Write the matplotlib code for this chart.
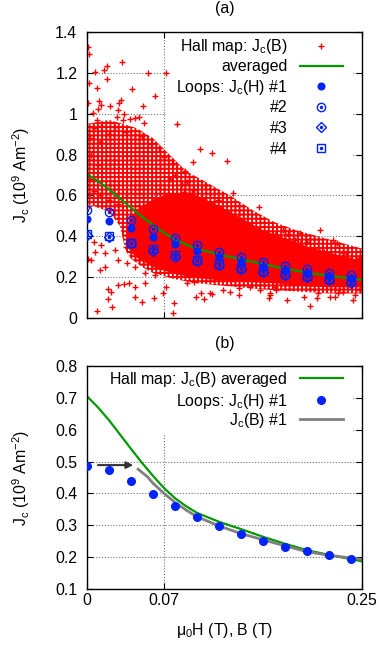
import matplotlib
matplotlib.use('Agg')
import matplotlib.pyplot as plt
from matplotlib.patches import Rectangle
from matplotlib.legend import Legend
from matplotlib.legend_handler import HandlerTuple

plt.rcParams['font.family'] = ['Liberation Sans', 'DejaVu Sans']
plt.rcParams['mathtext.fontset'] = 'custom'
plt.rcParams['mathtext.rm'] = 'Liberation Sans'
plt.rcParams['mathtext.it'] = 'Liberation Sans'
plt.rcParams['font.size'] = 11.4
plt.rcParams['hatch.linewidth'] = 1.4

# applied field of the magnetisation loops (T)
field = [0.00, 0.02, 0.04, 0.06, 0.08, 0.10, 0.12, 0.14, 0.16, 0.18, 0.20, 0.22, 0.24]
loop1 = [0.487, 0.473, 0.439, 0.398, 0.360, 0.327, 0.299, 0.274, 0.252, 0.233, 0.220, 0.207, 0.195]
loop2 = [0.528, 0.519, 0.478, 0.434, 0.392, 0.359, 0.323, 0.300, 0.274, 0.253, 0.238, 0.222, 0.209]
loop3 = [0.406, 0.398, 0.365, 0.330, 0.300, 0.279, 0.258, 0.240, 0.225, 0.212, 0.201, 0.186, 0.173]
loop4 = [0.411, 0.400, 0.369, 0.336, 0.308, 0.285, 0.264, 0.245, 0.230, 0.215, 0.204, 0.192, 0.180]

# Hall map, averaged Jc(B)
avg_b = [0.00, 0.01, 0.02, 0.03, 0.04, 0.05, 0.06, 0.07, 0.08, 0.09, 0.10, 0.12, 0.14,
         0.16, 0.18, 0.20, 0.22, 0.25]
avg_jc = [0.705, 0.670, 0.630, 0.585, 0.540, 0.496, 0.455, 0.417, 0.385, 0.360, 0.339,
          0.311, 0.288, 0.264, 0.242, 0.222, 0.207, 0.187]

# loop #1 converted to Jc(B)
jcb1_b = [0.0465, 0.055, 0.06, 0.07, 0.08, 0.09, 0.10, 0.12, 0.14, 0.17, 0.20, 0.22, 0.25]
jcb1_jc = [0.476, 0.452, 0.432, 0.400, 0.372, 0.348, 0.327, 0.298, 0.274, 0.245, 0.217,
           0.206, 0.193]

# Hall map cloud: solid core, looser halo around it, the rest as single points
core_b = [0.038, 0.045, 0.06, 0.075, 0.09, 0.10, 0.12, 0.14, 0.16, 0.18, 0.20, 0.22, 0.25,
          0.25, 0.22, 0.20, 0.17, 0.14, 0.12, 0.10, 0.08, 0.06, 0.05, 0.04, 0.036]
core_jc = [0.48, 0.53, 0.58, 0.61, 0.61, 0.60, 0.55, 0.49, 0.43, 0.39, 0.35, 0.32, 0.28,
           0.15, 0.15, 0.155, 0.17, 0.178, 0.185, 0.195, 0.215, 0.25, 0.28, 0.32, 0.36]
halo_b = [0.0, 0.0, 0.02, 0.045, 0.06, 0.075, 0.09, 0.11, 0.13, 0.15, 0.17, 0.19, 0.21, 0.23,
          0.25, 0.25, 0.22, 0.19, 0.16, 0.13, 0.10, 0.08, 0.06, 0.05, 0.04, 0.035, 0.03, 0.02]
halo_jc = [0.56, 0.95, 0.97, 0.93, 0.88, 0.80, 0.72, 0.66, 0.60, 0.53, 0.47, 0.43, 0.40, 0.37,
           0.34, 0.12, 0.12, 0.13, 0.14, 0.155, 0.17, 0.19, 0.22, 0.25, 0.29, 0.33, 0.45, 0.52]

hall_b = [0.001, 0.002, 0.018, 0.015, 0.032, 0.007, 0.055, 0.072, 0.018, 0.002, 0.041, 0.009,
          0.062, 0.031, 0.029, 0.011, 0.013, 0.021, 0.051, 0.001, 0.010, 0.028, 0.034, 0.005,
          0.047, 0.044, 0.039, 0.052, 0.082, 0.027, 0.025, 0.033, 0.009, 0.013, 0.006,
          0.103, 0.114, 0.127, 0.096, 0.089, 0.086, 0.091, 0.107, 0.088, 0.095, 0.094, 0.105,
          0.156, 0.117, 0.122, 0.131, 0.138, 0.089, 0.097, 0.119, 0.133,
          0.009, 0.019, 0.012, 0.019, 0.022, 0.023, 0.028, 0.034, 0.038, 0.044, 0.044, 0.050,
          0.061, 0.069, 0.072, 0.079, 0.078, 0.053, 0.004, 0.016, 0.007, 0.028, 0.036, 0.044,
          0.053, 0.062, 0.013, 0.025, 0.035, 0.006, 0.001, 0.047, 0.016,
          0.099, 0.106, 0.104, 0.112, 0.114, 0.124, 0.130, 0.138, 0.138, 0.148, 0.157, 0.165,
          0.166, 0.171, 0.091, 0.097, 0.154, 0.160, 0.171,
          0.183, 0.172, 0.189, 0.194, 0.200, 0.227, 0.212, 0.215, 0.235, 0.232, 0.227, 0.245,
          0.248, 0.239, 0.209, 0.203, 0.221, 0.225, 0.228, 0.233, 0.242, 0.244, 0.248, 0.197,
          0.210, 0.182, 0.166, 0.172, 0.178, 0.194, 0.212, 0.224, 0.233, 0.247,
          0.003, 0.012, 0.020, 0.035, 0.050, 0.058, 0.065, 0.070, 0.078, 0.004, 0.010, 0.003,
          0.006, 0.002, 0.012, 0.020, 0.028, 0.080, 0.075]
hall_jc = [1.328, 1.292, 1.235, 1.214, 1.255, 1.203, 1.201, 1.201, 1.171, 1.149, 1.121, 1.124,
           1.087, 1.067, 1.054, 1.062, 1.043, 1.039, 1.039, 1.054, 1.021, 1.018, 0.999, 1.002,
           0.982, 0.977, 0.972, 0.953, 0.948, 0.982, 0.936, 0.969, 0.970, 0.940, 0.930,
           0.827, 0.806, 0.768, 0.762, 0.720, 0.656, 0.664, 0.651, 0.618, 0.613, 0.582, 0.573,
           0.545, 0.529, 0.490, 0.491, 0.491, 0.708, 0.627, 0.578, 0.610,
           0.034, 0.093, 0.235, 0.142, 0.129, 0.055, 0.161, 0.166, 0.173, 0.153, 0.104, 0.080,
           0.096, 0.124, 0.153, 0.072, 0.026, 0.170, 0.284, 0.317, 0.325, 0.284, 0.268, 0.251,
           0.219, 0.210, 0.357, 0.333, 0.349, 0.373, 0.290, 0.300, 0.251,
           0.101, 0.091, 0.121, 0.124, 0.117, 0.137, 0.129, 0.148, 0.113, 0.153, 0.137, 0.096,
           0.113, 0.153, 0.170, 0.178, 0.411, 0.406, 0.406,
           0.410, 0.410, 0.382, 0.366, 0.374, 0.366, 0.325, 0.325, 0.317, 0.276, 0.268, 0.284,
           0.268, 0.284, 0.096, 0.059, 0.104, 0.104, 0.121, 0.129, 0.088, 0.113, 0.137, 0.104,
           0.121, 0.088, 0.121, 0.137, 0.431, 0.415, 0.431, 0.382, 0.317, 0.292,
           0.880, 0.860, 0.900, 0.910, 0.890, 0.850, 0.830, 0.790, 0.760, 0.800, 0.750, 0.680,
           0.620, 0.550, 0.600, 0.580, 0.560, 0.700, 0.680]

arrow_start = (0.010, 0.489)
arrow_end = (0.042, 0.489)

red = '#ff0000'
blue = '#0022ff'
green = '#009a00'
grey = '#808080'

fig = plt.figure(figsize=(3.79, 6.46), dpi=100)
ax1 = fig.add_axes([0.2296, 0.5077, 0.7256, 0.4427])
ax2 = fig.add_axes([0.2296, 0.0882, 0.7256, 0.3452])


def style_axis(ax):
    ax.set_axisbelow(True)
    ax.grid(True, color='0.45', linestyle=(0, (1, 1.6)), linewidth=0.8)
    ax.tick_params(direction='in', length=4, width=0.8, top=True, right=True, pad=7)
    ax.tick_params(axis='x', pad=3)
    for s in ax.spines.values():
        s.set_linewidth(1.0)
    ax.set_xlim(0, 0.25)
    ax.set_xticks([0, 0.07, 0.25])
    ax.set_ylabel(r'J$_\mathregular{c}$ (10$^\mathregular{9}$ Am$^\mathregular{-2}$)')
    ax.yaxis.set_label_coords(-0.2, 0.5)


def key_rows(ax, handles, labels, rows):
    # gnuplot-style key: one fixed-pitch row per entry, text right-aligned before the sample
    for h, lab, y in zip(handles, labels, rows):
        leg = Legend(ax, [h], [lab], loc='center right', bbox_to_anchor=(0.931, y),
                     frameon=False, markerfirst=False, handlelength=2.75,
                     handletextpad=0.75, borderpad=0, borderaxespad=0,
                     handler_map={tuple: HandlerTuple(ndivide=1, pad=0)})
        ax.add_artist(leg)


# ---- (a) ----
style_axis(ax1)
ax1.set_ylim(0, 1.4)
ax1.set_yticks([0, 0.2, 0.4, 0.6, 0.8, 1.0, 1.2, 1.4])
ax1.set_yticklabels(['0', '0.2', '0.4', '0.6', '0.8', '1', '1.2', '1.4'])
ax1.tick_params(axis='x', labelbottom=False)
ax1.add_patch(Rectangle((0.0715, 0.70), 0.17, 0.70, facecolor='white', edgecolor='none', zorder=0.9))

ax1.fill(halo_b, halo_jc, facecolor='none', edgecolor=red, hatch='++++', lw=0, zorder=1)
ax1.fill(core_b, core_jc, color=red, lw=0, zorder=1.1)
h_hall, = ax1.plot(hall_b, hall_jc, '+', color=red, ms=4.5, mew=1, zorder=1.2)
h_avg, = ax1.plot(avg_b, avg_jc, '-', color=green, lw=1.6, zorder=2)
h1, = ax1.plot(field, loop1, 'o', color=blue, ms=4.8, zorder=3)
h2o, = ax1.plot(field, loop2, 'o', mfc='none', mec=blue, ms=6, mew=1, zorder=3)
h2d, = ax1.plot(field, loop2, 'o', color=blue, ms=1.5, zorder=3)
h3o, = ax1.plot(field, loop3, 'D', mfc='none', mec=blue, ms=4.8, mew=1, zorder=3)
h3d, = ax1.plot(field, loop3, 'o', color=blue, ms=1.5, zorder=3)
h4o, = ax1.plot(field, loop4, 's', mfc='none', mec=blue, ms=5.5, mew=1, zorder=3)
h4d, = ax1.plot(field, loop4, 'o', color=blue, ms=1.5, zorder=3)

key_rows(ax1,
         [h_hall, h_avg, h1, (h2o, h2d), (h3o, h3d), (h4o, h4d)],
         [r'Hall map: J$_\mathregular{c}$(B)', 'averaged', r'Loops: J$_\mathregular{c}$(H) #1',
          '#2', '#3', '#4'],
         [0.9486, 0.8787, 0.8066, 0.7353, 0.6633, 0.5899])
ax1.text(0.5, 1.084, '(a)', transform=ax1.transAxes, ha='center', va='center')

# ---- (b) ----
style_axis(ax2)
ax2.set_ylim(0.1, 0.8)
ax2.set_yticks([0.1, 0.2, 0.3, 0.4, 0.5, 0.6, 0.7, 0.8])
ax2.set_xticklabels(['0', '0.07', '0.25'])
ax2.add_patch(Rectangle((0.0, 0.585), 0.241, 0.215, facecolor='white', edgecolor='none', zorder=0.9))

g_avg, = ax2.plot(avg_b, avg_jc, '-', color=green, lw=1.6, zorder=2)
g_b1, = ax2.plot(jcb1_b, jcb1_jc, '-', color=grey, lw=2, zorder=2)
g_l1, = ax2.plot(field, loop1, 'o', color=blue, ms=5.5, zorder=3)
ax2.annotate('', xy=arrow_end, xytext=arrow_start,
             arrowprops=dict(arrowstyle='-|>', color='#333333', lw=1.5,
                             mutation_scale=10, shrinkA=0, shrinkB=0), zorder=4)

key_rows(ax2,
         [g_avg, g_l1, g_b1],
         [r'Hall map: J$_\mathregular{c}$(B) averaged', r'Loops: J$_\mathregular{c}$(H) #1',
          r'J$_\mathregular{c}$(B) #1'],
         [0.9404, 0.8430, 0.7578])
ax2.set_xlabel(r'$\mathregular{\mu_0}$H (T), B (T)')
ax2.xaxis.set_label_coords(0.5, -0.145)
ax2.text(0.5, 1.103, '(b)', transform=ax2.transAxes, ha='center', va='center')

fig.savefig('out.png', dpi=100)
